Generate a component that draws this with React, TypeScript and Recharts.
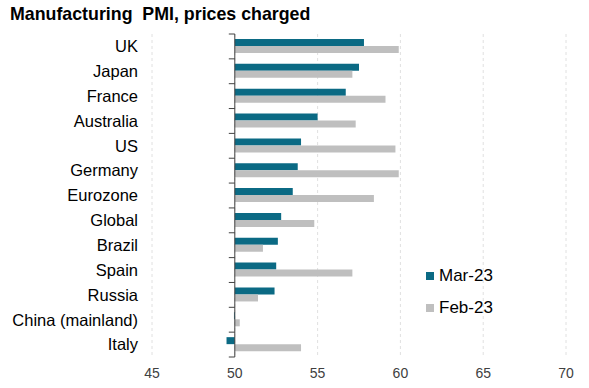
import React from "react"
import { BarChart, Bar, XAxis, YAxis, CartesianGrid, ReferenceLine } from "recharts"

const countries = [
  "UK",
  "Japan",
  "France",
  "Australia",
  "US",
  "Germany",
  "Eurozone",
  "Global",
  "Brazil",
  "Spain",
  "Russia",
  "China (mainland)",
  "Italy",
]
const mar23 = [57.8, 57.5, 56.7, 55.0, 54.0, 53.8, 53.5, 52.8, 52.6, 52.5, 52.4, 49.95, 49.5]
const feb23 = [59.9, 57.1, 59.1, 57.3, 59.7, 59.9, 58.4, 54.8, 51.7, 57.1, 51.4, 50.3, 54.0]
const xTicks = [45, 50, 55, 60, 65, 70]
const BASE = 50

const data = countries.map((name, i) => ({ name, mar: mar23[i], feb: feb23[i] }))

const W = 589
const H = 388
const margin = { top: 34, right: 23, bottom: 6, left: 0 }
const Y_AXIS_W = 152
const X_AXIS_H = 25
const plotW = W - margin.left - margin.right - Y_AXIS_W
const plotH = H - margin.top - margin.bottom - X_AXIS_H
const band = plotH / countries.length
// where the 50 line sits, for the little boundary ticks
const axisX = margin.left + Y_AXIS_W + ((BASE - 45) / (70 - 45)) * plotW

const TEAL = "#0b6a84"
const GREY = "#bfbfbf"

const series = [
  { key: "mar", name: "Mar-23", color: TEAL },
  { key: "feb", name: "Feb-23", color: GREY },
]

const range = (v: number) => [Math.min(BASE, v), Math.max(BASE, v)]

function CountryTick(props: any) {
  const { y, payload, index } = props
  const last = index === countries.length - 1
  return (
    <g>
      <text x={138} y={y} dy="0.35em" textAnchor="end" fontSize={16.5} fill="#000">
        {payload.value}
      </text>
      <line x1={axisX - 6} x2={axisX} y1={y - band / 2} y2={y - band / 2} stroke="#404040" />
      {last && <line x1={axisX - 6} x2={axisX} y1={y + band / 2} y2={y + band / 2} stroke="#404040" />}
    </g>
  )
}

export default function App() {
  return (
    <div
      style={{
        position: "absolute",
        left: 0,
        top: 0,
        width: W,
        height: H,
        background: "#fff",
        fontFamily: "Arial, 'Liberation Sans', sans-serif",
      }}
    >
      <div style={{ position: "absolute", left: 10, top: 4, fontSize: 17.8, fontWeight: "bold", whiteSpace: "pre", color: "#000" }}>
        {"Manufacturing  PMI, prices charged"}
      </div>
      <BarChart width={W} height={H} data={data} layout="vertical" margin={margin} barSize={7} barGap={0}>
        <CartesianGrid horizontal={false} strokeDasharray="3 3" stroke="#e0e0e0" />
        <XAxis
          type="number"
          domain={[45, 70]}
          ticks={xTicks}
          axisLine={false}
          tickLine={false}
          height={X_AXIS_H}
          tickMargin={5}
          tick={{ fontSize: 14, fill: "#404040" }}
        />
        <YAxis
          type="category"
          dataKey="name"
          width={Y_AXIS_W}
          axisLine={false}
          tickLine={false}
          interval={0}
          tick={<CountryTick />}
        />
        {series.map((s) => (
          <Bar
            key={s.key}
            name={s.name}
            dataKey={(d: any) => range(d[s.key])}
            fill={s.color}
            isAnimationActive={false}
          />
        ))}
        <ReferenceLine x={BASE} stroke="#404040" />
      </BarChart>
      <div style={{ position: "absolute", left: 426, top: 260 }}>
        {series.map((s) => (
          <div key={s.key} style={{ display: "flex", alignItems: "center", height: 32, fontSize: 17, color: "#000" }}>
            <span style={{ width: 8, height: 8, background: s.color, marginRight: 5, display: "inline-block" }} />
            {s.name}
          </div>
        ))}
      </div>
    </div>
  )
}
